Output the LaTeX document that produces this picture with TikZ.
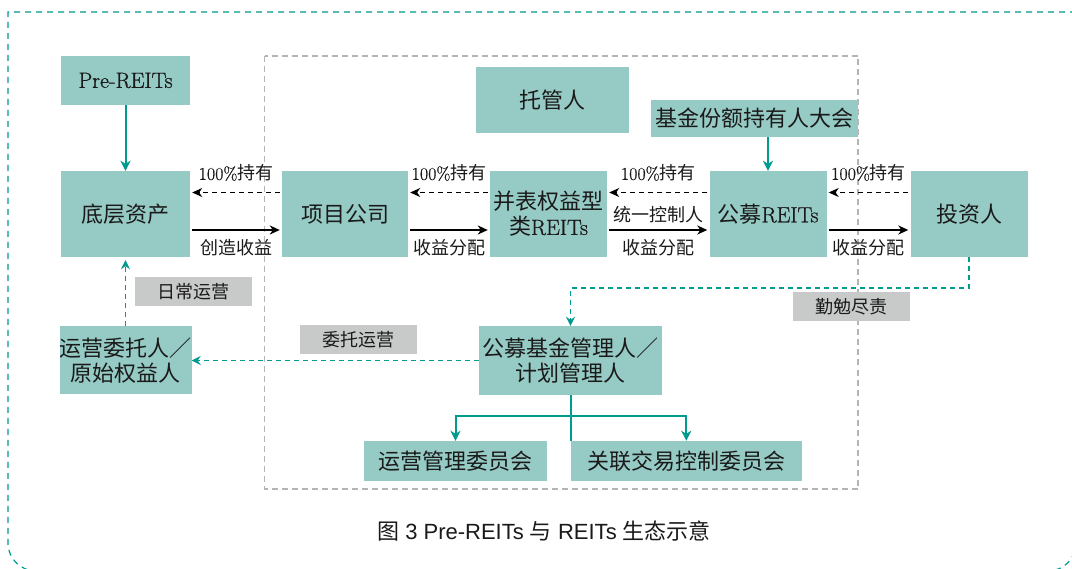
\documentclass[tikz,border=0pt]{standalone}
\usepackage{fontspec}
\setmainfont{Latin Modern Roman}[FakeBold=0.9]
\newfontfamily\cjk{Noto Sans CJK SC}
\newfontfamily\capsans{Liberation Sans}
\usetikzlibrary{arrows.meta,calc}
\newcommand\zh[1]{{\cjk #1}}
\definecolor{boxfill}{HTML}{96CAC4}
\definecolor{tealc}{HTML}{009B8F}
\definecolor{lblgray}{HTML}{C8C9C9}
\definecolor{dashgray}{HTML}{B4B4B4}
\definecolor{txt}{HTML}{1A1A1A}
\tikzset{
  bx/.style={fill=boxfill, draw=none, inner sep=0pt, align=center, text=txt,
    font=\fontsize{22}{25}\selectfont},
  graylbl/.style={fill=lblgray, inner sep=0pt, minimum width=117pt, minimum height=29pt,
    font=\fontsize{18}{20}\selectfont\cjk, text=txt},
  smlbl/.style={font=\fontsize{18}{20}\selectfont, text=txt, inner sep=0pt},
  blkarr/.style={-{Stealth[length=10pt,width=9pt,inset=3pt]}, line width=1.6pt, black,
    shorten >=2pt, shorten <=2pt},
  blkdash/.style={blkarr, line width=1.3pt, dash pattern=on 5pt off 4pt},
  tealarr/.style={-{Stealth[length=10pt,width=10pt,inset=3pt]}, line width=2pt, tealc},
  tealline/.style={line width=2pt, tealc},
  tealdash/.style={-{Stealth[length=9pt,width=9pt,inset=3pt]}, line width=1.6pt, tealc,
    dash pattern=on 5pt off 4pt},
}
\begin{document}
\begin{tikzpicture}[x=1pt,y=-1pt]
\useasboundingbox (0,0) rectangle (1072,569);
\clip (0,0) rectangle (1072,569);
\fill[white] (0,0) rectangle (1072,569);
% outer frame
\draw[tealc, line width=1.2pt, dash pattern=on 6pt off 5pt]
  (1076,12) -- (8,12) -- (8,543) arc[start angle=180, end angle=270, radius=28pt]
  -- (1048,571) arc[start angle=270, end angle=360, radius=28pt] -- cycle;
% inner frame
\draw[dashgray, line width=1.5pt, dash pattern=on 6pt off 4pt] (264.5,56) rectangle (858,489);

% boxes
\node[bx, minimum width=129pt, minimum height=49pt] (pre) at (125.5,80.5) {Pre-REITs};
\node[bx, minimum width=129pt, minimum height=86pt] (asset) at (125.5,214) {\zh{底层资产}};
\node[bx, minimum width=126pt, minimum height=86pt] (proj) at (345,214) {\zh{项目公司}};
\node[bx, minimum width=117pt, minimum height=86pt] (bing) at (548.5,214) {\zh{并表权益型}\\\zh{类}REITs};
\node[bx, minimum width=117pt, minimum height=86pt] (gm) at (768,214) {\zh{公募}REITs};
\node[bx, minimum width=117pt, minimum height=86pt] (inv) at (969,214) {\zh{投资人}};
\node[bx, minimum width=153pt, minimum height=66pt] (tg) at (552.5,100) {\zh{托管人}};
\node[bx, minimum width=207pt, minimum height=37pt] (dh) at (754.5,118.5) {\zh{基金份额持有人大会}};
\node[bx, minimum width=129pt, minimum height=68pt] (op) at (125.5,360.5) {\zh{运营委托人／}\\\zh{原始权益人}};
\node[bx, minimum width=183pt, minimum height=69pt] (mgr) at (570.5,360.5) {\zh{公募基金管理人／}\\\zh{计划管理人}};
\node[bx, minimum width=183pt, minimum height=40pt] (c1) at (455.5,461) {\zh{运营管理委员会}};
\node[bx, minimum width=231pt, minimum height=40pt] (c2) at (686.3,461) {\zh{关联交易控制委员会}};

% gray labels
\node[graylbl] (l1) at (193.5,291.5) {日常运营};
\node[graylbl] (l2) at (358.5,339.5) {委托运营};

% horizontal black arrows
\foreach \a/\b/\lab in {asset/proj/创造收益, proj/bing/收益分配, bing/gm/收益分配, gm/inv/收益分配}{
  \draw[blkdash] ([yshift=21.5pt]\b.west) -- node[smlbl, midway, yshift=19.5pt] {100\%\zh{持有}} ([yshift=21.5pt]\a.east);
  \draw[blkarr] ([yshift=-16pt]\a.east) -- node[smlbl, midway, yshift=-18pt] {\zh{\lab}} ([yshift=-16pt]\b.west);
}
\node[smlbl] (tyk) at ($(bing.east)!0.5!(gm.west)+(0,1)$) {\zh{统一控制人}};

% teal solid arrows
\draw[tealarr] (pre.south) -- (asset.north);
\draw[tealarr] (dh.south -| gm.north) -- (gm.north);
\coordinate (tee) at (0,416);
\draw[tealline] (mgr.south) -- (mgr.south |- tee);
\draw[tealarr] (c1.north -| mgr.south) |- (c1.north |- tee) -- (c1.north);
\draw[tealarr] (c2.north -| mgr.south) |- (c2.north |- tee) -- (c2.north);

% teal dashed arrows
\coordinate (turn) at (0,288);
\draw[tealdash] (inv.south) -- (inv.south |- turn) -| (mgr.north);
\draw[tealdash] (mgr.west) -- (op.east);
\draw[tealdash, shorten >=3pt] (op.north) -- (asset.south);

\node[graylbl] (l3) at (851.5,306.5) {勤勉尽责};

% caption
\node[font=\fontsize{22}{24}\selectfont\capsans, text=txt, inner sep=0pt] (cap) at (544,531)
  {\zh{图} 3 Pre-REITs \zh{与} REITs \zh{生态示意}};
\end{tikzpicture}
\end{document}
